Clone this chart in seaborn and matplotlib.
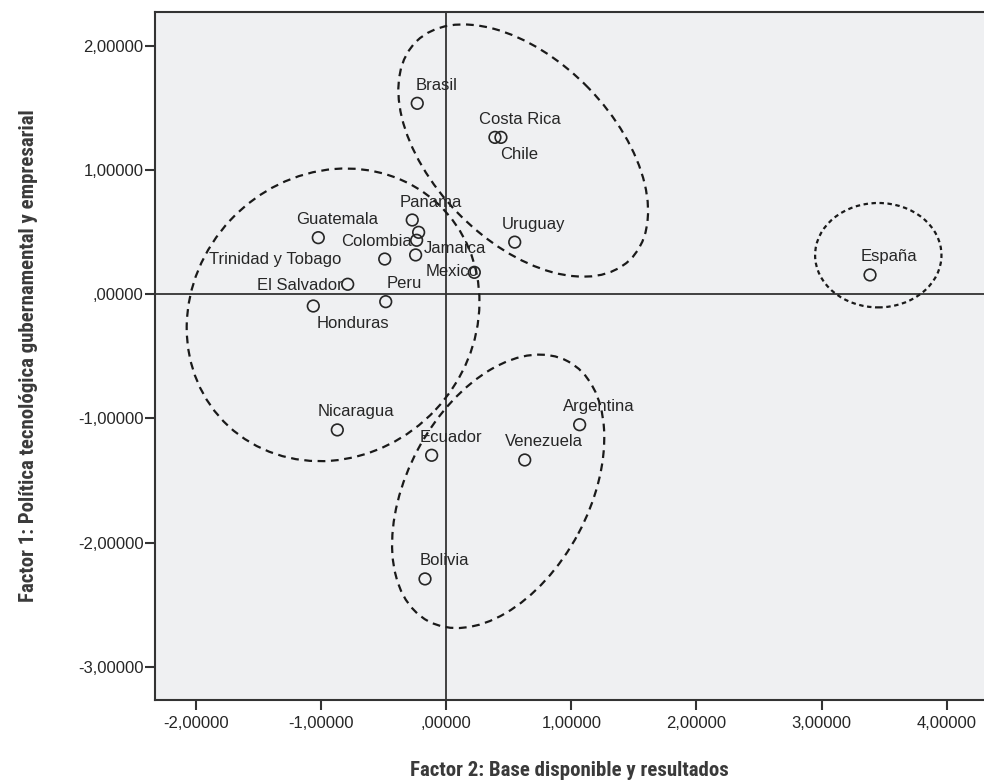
import numpy as np
import pandas as pd
import matplotlib
matplotlib.use("Agg")
import matplotlib.pyplot as plt
from matplotlib.patches import Ellipse
from matplotlib import font_manager
import seaborn as sns

# factor scores (x = factor 2, y = factor 1)
countries = ["Brasil", "Costa Rica", "Chile", "Panama", "", "Colombia", "Jamaica",
             "Guatemala", "Trinidad y Tobago", "Mexico", "El Salvador", "Peru",
             "Honduras", "Uruguay", "Nicaragua", "Ecuador", "Venezuela",
             "Argentina", "Bolivia", "España"]
factor2 = [-0.232, 0.389, 0.437, -0.272, -0.221, -0.237, -0.245,
           -1.023, -0.492, 0.224, -0.788, -0.484,
           -1.063, 0.547, -0.871, -0.117, 0.627,
           1.066, -0.170, 3.387]
factor1 = [1.535, 1.261, 1.261, 0.596, 0.497, 0.433, 0.315,
           0.454, 0.282, 0.175, 0.079, -0.061,
           -0.096, 0.418, -1.093, -1.297, -1.335,
           -1.051, -2.292, 0.154]

xticks = [-2, -1, 0, 1, 2, 3, 4]
xtick_labels = ["-2,00000", "-1,00000", ",00000", "1,00000", "2,00000", "3,00000", "4,00000"]
yticks = [2, 1, 0, -1, -2, -3]
ytick_labels = ["2,00000", "1,00000", ",00000", "-1,00000", "-2,00000", "-3,00000"]

df = pd.DataFrame({"pais": countries, "f2": factor2, "f1": factor1})

# label offsets in pixels (dx, dy up); default is above-right
label_offset = {"Costa Rica": (25, 18), "Chile": (18, -17), "Jamaica": (39, 6),
                "Mexico": (-22, 1), "Colombia": (-40, -1), "Trinidad y Tobago": (-110, 0),
                "El Salvador": (-48, -1), "Honduras": (40, -17)}

# cluster ellipses: centre, width, height, angle, dash pattern
groups = [((0.615, 1.155), 2.45, 1.45, 134, (3.5, 2.5)),
          ((-0.905, -0.167), 2.45, 2.24, 47, (3.5, 2.5)),
          ((0.415, -1.587), 2.37, 1.45, 62, (3.5, 2.5)),
          ((3.453, 0.313), 1.01, 0.84, 0, (2.0, 1.6))]

sns.set_style("ticks")
plt.rcParams["font.family"] = ["Liberation Sans", "DejaVu Sans"]
ink = "#262626"

# axis titles use a condensed face in the original
faces = {(f.name, f.stretch) for f in font_manager.fontManager.ttflist}
if any(n == "Roboto Condensed" for n, s in faces):
    lab_font = dict(family="Roboto Condensed", fontsize=15)
elif ("DejaVu Sans", "condensed") in faces:
    lab_font = dict(family="DejaVu Sans", fontstretch="condensed", fontsize=13.5)
else:
    lab_font = dict(family="Liberation Sans", fontsize=13.5)

fig = plt.figure(figsize=(9.84, 7.82), dpi=100)
ax = fig.add_axes([0.1578, 0.1049, 0.8422, 0.8801])
ax.set_facecolor("#eff0f2")

ax.axhline(0, color="#333333", lw=1.3, zorder=1)
ax.axvline(0, color="#333333", lw=1.3, zorder=1)

sns.scatterplot(data=df, x="f2", y="f1", ax=ax, marker="o", s=70,
                color="none", edgecolor=ink, linewidth=1.2, zorder=3)

for name, x, y in zip(countries, factor2, factor1):
    if not name:
        continue
    dx, dy = label_offset.get(name, (19, 18))
    ax.annotate(name, (x, y), xytext=(dx, dy), textcoords="offset pixels",
                ha="center", va="center", fontsize=12, color=ink, zorder=4)

for (cx, cy), w, h, ang, dash in groups:
    ax.add_patch(Ellipse((cx, cy), w, h, angle=ang, fill=False, edgecolor="#1a1a1a",
                         lw=1.6, linestyle=(0, dash), zorder=2))

ax.set_xlim(-2.326, 4.298)
ax.set_ylim(-3.266, 2.272)
ax.set_xticks(xticks)
ax.set_xticklabels(xtick_labels)
ax.set_yticks(yticks)
ax.set_yticklabels(ytick_labels)
ax.tick_params(axis="both", length=7.5, width=1.5, color="#333333", labelsize=12, labelcolor=ink)
ax.tick_params(axis="x", pad=4)
ax.tick_params(axis="y", pad=1)

for side in ["left", "bottom", "top"]:
    ax.spines[side].set_color("#333333")
    ax.spines[side].set_linewidth(1.5)
ax.spines["right"].set_visible(False)

ax.set_xlabel("Factor 2: Base disponible y resultados", labelpad=22, color="#3a3a3a",
              fontweight="semibold", **lab_font)
ax.set_ylabel("Factor 1: Política tecnológica gubernamental y empresarial", labelpad=29,
              color="#3a3a3a", fontweight="semibold", **lab_font)

fig.savefig("out.png", dpi=100, facecolor="white")
